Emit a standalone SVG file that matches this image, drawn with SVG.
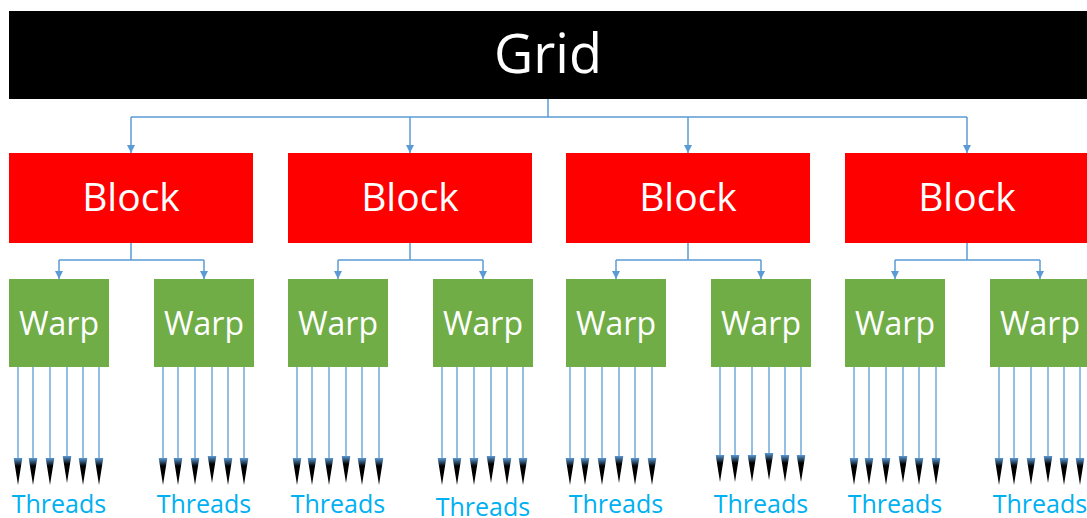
<svg xmlns="http://www.w3.org/2000/svg" width="1087" height="518" viewBox="0 0 1087 518">
<style>
.grid{fill:#000}
.block{fill:#ff0000}
.warp{fill:#70ad47}
.lbl{font-family:"Open Sans","Liberation Sans",sans-serif;fill:#fff;text-anchor:middle}
.thr{font-family:"Open Sans","Liberation Sans",sans-serif;fill:#00b0f0;text-anchor:middle;font-size:25px}
.con{fill:none;stroke:#5b9bd5;stroke-width:1.5}
.th{fill:none;stroke:#5b9bd5;stroke-width:1.3}
</style>
<defs>
<marker id="arr" viewBox="0 -4 8 8" refX="8" refY="0" markerUnits="userSpaceOnUse" markerWidth="8" markerHeight="8" orient="auto">
<path d="M0,-4 L8,0 L0,4 Z" fill="#5b9bd5"/>
</marker>
<linearGradient id="ag" x1="0" y1="0" x2="1" y2="0">
<stop offset="0" stop-color="#5b9bd5"/>
<stop offset="0.3" stop-color="#000"/>
<stop offset="1" stop-color="#000"/>
</linearGradient>
<marker id="head" viewBox="0 -5 27 10" refX="0" refY="0" markerUnits="userSpaceOnUse" markerWidth="27" markerHeight="10" orient="auto">
<path d="M0,-4.3 L27,0 L0,4.3 Z" fill="url(#ag)"/>
</marker>
</defs>

<g id="grid">
<rect class="grid" x="9" y="11" width="1090" height="88"/>
<text class="lbl" x="548" y="73" font-size="54">Grid</text>
</g>

<g id="block1"><rect class="block" x="9" y="153" width="244" height="90"/><text class="lbl" x="131" y="211" font-size="39">Block</text></g>
<g id="block2"><rect class="block" x="288" y="153" width="244" height="90"/><text class="lbl" x="410" y="211" font-size="39">Block</text></g>
<g id="block3"><rect class="block" x="566" y="153" width="244" height="90"/><text class="lbl" x="688" y="211" font-size="39">Block</text></g>
<g id="block4"><rect class="block" x="845" y="153" width="244" height="90"/><text class="lbl" x="967" y="211" font-size="39">Block</text></g>

<g id="warp1a"><rect class="warp" x="9" y="279" width="100" height="88"/><text class="lbl" x="59" y="335" font-size="32">Warp</text></g>
<g id="warp1b"><rect class="warp" x="154" y="279" width="100" height="88"/><text class="lbl" x="204" y="335" font-size="32">Warp</text></g>
<g id="warp2a"><rect class="warp" x="288" y="279" width="100" height="88"/><text class="lbl" x="338" y="335" font-size="32">Warp</text></g>
<g id="warp2b"><rect class="warp" x="433" y="279" width="100" height="88"/><text class="lbl" x="483" y="335" font-size="32">Warp</text></g>
<g id="warp3a"><rect class="warp" x="566" y="279" width="100" height="88"/><text class="lbl" x="616" y="335" font-size="32">Warp</text></g>
<g id="warp3b"><rect class="warp" x="711" y="279" width="100" height="88"/><text class="lbl" x="761" y="335" font-size="32">Warp</text></g>
<g id="warp4a"><rect class="warp" x="845" y="279" width="100" height="88"/><text class="lbl" x="895" y="335" font-size="32">Warp</text></g>
<g id="warp4b"><rect class="warp" x="990" y="279" width="100" height="88"/><text class="lbl" x="1040" y="335" font-size="32">Warp</text></g>

<g id="threads-labels">
<text class="thr" x="59" y="513">Threads</text>
<text class="thr" x="204" y="513">Threads</text>
<text class="thr" x="338" y="513">Threads</text>
<text class="thr" x="483" y="516">Threads</text>
<text class="thr" x="616" y="513">Threads</text>
<text class="thr" x="761" y="513">Threads</text>
<text class="thr" x="895" y="513">Threads</text>
<text class="thr" x="1040" y="513">Threads</text>
</g>

<g id="connectors">
<path class="con" d="M548,99 V117 M131,117 H967"/>
<path class="con" d="M131,117 V153" marker-end="url(#arr)"/>
<path class="con" d="M410,117 V153" marker-end="url(#arr)"/>
<path class="con" d="M688,117 V153" marker-end="url(#arr)"/>
<path class="con" d="M967,117 V153" marker-end="url(#arr)"/>

<path class="con" d="M131,243 V260 M59,260 H204 M410,243 V260 M338,260 H483 M688,243 V260 M616,260 H761 M967,243 V260 M895,260 H1040"/>
<path class="con" d="M59,260 V279" marker-end="url(#arr)"/>
<path class="con" d="M204,260 V279" marker-end="url(#arr)"/>
<path class="con" d="M338,260 V279" marker-end="url(#arr)"/>
<path class="con" d="M483,260 V279" marker-end="url(#arr)"/>
<path class="con" d="M616,260 V279" marker-end="url(#arr)"/>
<path class="con" d="M761,260 V279" marker-end="url(#arr)"/>
<path class="con" d="M895,260 V279" marker-end="url(#arr)"/>
<path class="con" d="M1040,260 V279" marker-end="url(#arr)"/>

<g id="threads1a">
<path class="th" d="M18,367 V458" marker-end="url(#head)"/><path class="th" d="M33,367 V458" marker-end="url(#head)"/><path class="th" d="M50,367 V458" marker-end="url(#head)"/><path class="th" d="M67,367 V456" marker-end="url(#head)"/><path class="th" d="M83,367 V458" marker-end="url(#head)"/><path class="th" d="M99,367 V458" marker-end="url(#head)"/>
</g>
<g id="threads1b">
<path class="th" d="M163,367 V458" marker-end="url(#head)"/><path class="th" d="M178,367 V458" marker-end="url(#head)"/><path class="th" d="M195,367 V458" marker-end="url(#head)"/><path class="th" d="M212,367 V456" marker-end="url(#head)"/><path class="th" d="M228,367 V458" marker-end="url(#head)"/><path class="th" d="M244,367 V458" marker-end="url(#head)"/>
</g>
<g id="threads2a">
<path class="th" d="M297,367 V458" marker-end="url(#head)"/><path class="th" d="M312,367 V458" marker-end="url(#head)"/><path class="th" d="M329,367 V458" marker-end="url(#head)"/><path class="th" d="M346,367 V456" marker-end="url(#head)"/><path class="th" d="M362,367 V458" marker-end="url(#head)"/><path class="th" d="M379,367 V458" marker-end="url(#head)"/>
</g>
<g id="threads2b">
<path class="th" d="M442,367 V458" marker-end="url(#head)"/><path class="th" d="M457,367 V458" marker-end="url(#head)"/><path class="th" d="M474,367 V458" marker-end="url(#head)"/><path class="th" d="M491,367 V456" marker-end="url(#head)"/><path class="th" d="M507,367 V458" marker-end="url(#head)"/><path class="th" d="M523,367 V458" marker-end="url(#head)"/>
</g>
<g id="threads3a">
<path class="th" d="M570,367 V458" marker-end="url(#head)"/><path class="th" d="M585,367 V458" marker-end="url(#head)"/><path class="th" d="M602,367 V458" marker-end="url(#head)"/><path class="th" d="M619,367 V456" marker-end="url(#head)"/><path class="th" d="M635,367 V458" marker-end="url(#head)"/><path class="th" d="M652,367 V458" marker-end="url(#head)"/>
</g>
<g id="threads3b">
<path class="th" d="M720,367 V455" marker-end="url(#head)"/><path class="th" d="M735,367 V455" marker-end="url(#head)"/><path class="th" d="M752,367 V455" marker-end="url(#head)"/><path class="th" d="M769,367 V453" marker-end="url(#head)"/><path class="th" d="M785,367 V455" marker-end="url(#head)"/><path class="th" d="M801,367 V455" marker-end="url(#head)"/>
</g>
<g id="threads4a">
<path class="th" d="M854,367 V458" marker-end="url(#head)"/><path class="th" d="M869,367 V458" marker-end="url(#head)"/><path class="th" d="M886,367 V458" marker-end="url(#head)"/><path class="th" d="M903,367 V456" marker-end="url(#head)"/><path class="th" d="M919,367 V458" marker-end="url(#head)"/><path class="th" d="M936,367 V458" marker-end="url(#head)"/>
</g>
<g id="threads4b">
<path class="th" d="M999,367 V458" marker-end="url(#head)"/><path class="th" d="M1014,367 V458" marker-end="url(#head)"/><path class="th" d="M1031,367 V458" marker-end="url(#head)"/><path class="th" d="M1048,367 V456" marker-end="url(#head)"/><path class="th" d="M1064,367 V458" marker-end="url(#head)"/><path class="th" d="M1080,367 V458" marker-end="url(#head)"/>
</g>
</g>
</svg>
